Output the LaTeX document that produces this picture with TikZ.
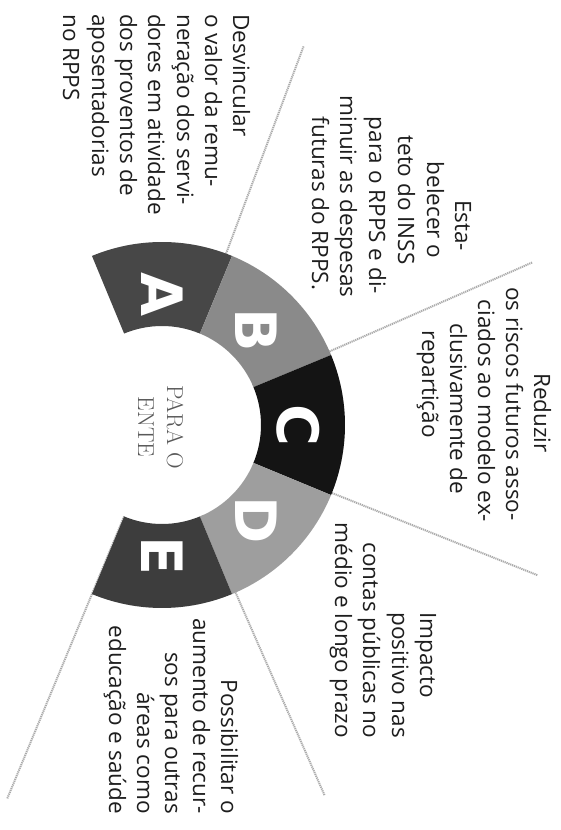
\documentclass[tikz,border=0pt]{standalone}
\usepackage{fontspec}
\newfontfamily\sansf{Open Sans}
\newfontfamily\letf{DejaVu Sans}
\definecolor{segA}{HTML}{474747}
\definecolor{segB}{HTML}{8A8A8A}
\definecolor{segC}{HTML}{141414}
\definecolor{segD}{HTML}{9E9E9E}
\definecolor{segE}{HTML}{3D3D3D}
\definecolor{linecol}{HTML}{ABABAB}
\definecolor{txtcol}{HTML}{1E1E1E}
\begin{document}
\begin{tikzpicture}[x=1pt,y=1pt,
  txt/.style={font=\sansf\fontsize{22.5}{28}\selectfont, rotate=-90, inner sep=0pt, text=txtcol},
  bigletter/.style={font=\letf\bfseries\fontsize{57}{57}\selectfont, rotate=-90, inner sep=0pt, text=white},
  ctrtext/.style={font=\fontsize{23}{28}\selectfont, rotate=-90, inner sep=0pt, text=black!65},
  divider/.style={draw=linecol, line width=2pt, dash pattern=on 1.2pt off 0.8pt}]
\useasboundingbox (0,0) rectangle (561,830);
\fill[white] (0,0) rectangle (561,830);
\begin{scope}[shift={(162,405)}]
  \foreach \a in {69.5,23.7,-21.8,-66.3,-112.5}
    \draw[divider] (\a:99pt) -- (\a:405pt);
  \fill[segA] (112.5:183pt) arc[start angle=112.5,end angle=67.5,radius=183pt] -- (67.5:99pt) arc[start angle=67.5,end angle=112.5,radius=99pt] -- cycle;
  \fill[segB] (67.5:183pt) arc[start angle=67.5,end angle=22.5,radius=183pt] -- (22.5:99pt) arc[start angle=22.5,end angle=67.5,radius=99pt] -- cycle;
  \fill[segC] (22.5:183pt) arc[start angle=22.5,end angle=-22.5,radius=183pt] -- (-22.5:99pt) arc[start angle=-22.5,end angle=22.5,radius=99pt] -- cycle;
  \fill[segD] (-22.5:183pt) arc[start angle=-22.5,end angle=-67.5,radius=183pt] -- (-67.5:99pt) arc[start angle=-67.5,end angle=-22.5,radius=99pt] -- cycle;
  \fill[segE] (-67.5:183pt) arc[start angle=-67.5,end angle=-112.5,radius=183pt] -- (-112.5:99pt) arc[start angle=-112.5,end angle=-67.5,radius=99pt] -- cycle;
  \node[bigletter] (LA) at (90:130pt) {A};
  \node[bigletter] (LB) at (45:134pt) {B};
  \node[bigletter] (LC) at (0:136pt) {C};
  \node[bigletter] (LD) at (-45:134pt) {D};
  \node[bigletter] (LE) at (-90:131pt) {E};
\end{scope}
% centre
\node[ctrtext, anchor=base] (c1) at (167,403) {PARA O};
\node[ctrtext, anchor=base] (c2) at (138,403) {ENTE};
% block A
\node[txt, anchor=base west] (a1) at (233,816) {Desvincular};
\node[txt, anchor=base west] (a2) at (205,816) {o valor da remu-};
\node[txt, anchor=base west] (a3) at (177,816) {neração dos servi-};
\node[txt, anchor=base west] (a4) at (148,816) {dores em atividade};
\node[txt, anchor=base west] (a5) at (120,816) {dos proventos de};
\node[txt, anchor=base west] (a6) at (92,816) {aposentadorias};
\node[txt, anchor=base west] (a7) at (63,816) {no RPPS};
% block B
\node[txt, anchor=base] (b1) at (455,604.5) {Esta-};
\node[txt, anchor=base] (b2) at (427,620) {belecer o};
\node[txt, anchor=base] (b3) at (398,630) {teto do INSS};
\node[txt, anchor=base] (b4) at (369,624.5) {para o RPPS e di-};
\node[txt, anchor=base] (b5) at (340,633.5) {minuir as despesas};
\node[txt, anchor=base] (b6) at (312,626.5) {futuras do RPPS.};
% block C
\node[txt, anchor=base] (k1) at (534,417) {Reduzir};
\node[txt, anchor=base] (k2) at (506,426) {os riscos futuros asso-};
\node[txt, anchor=base] (k3) at (478,419) {ciados ao modelo ex-};
\node[txt, anchor=base] (k4) at (450,421.5) {clusivamente de};
\node[txt, anchor=base] (k5) at (422,446) {repartição};
% block D
\node[txt, anchor=base west] (d1) at (420,218) {Impacto};
\node[txt, anchor=base east] (d2) at (392,92) {positivo nas};
\node[txt, anchor=base east] (d3) at (363,92) {contas públicas no};
\node[txt, anchor=base east] (d4) at (335,92) {médio e longo prazo};
% block E
\node[txt, anchor=base east] (e1) at (221,16) {Possibilitar o};
\node[txt, anchor=base east] (e2) at (193,16) {aumento de recur-};
\node[txt, anchor=base east] (e3) at (165,16) {sos para outras};
\node[txt, anchor=base east] (e4) at (137,16) {áreas como};
\node[txt, anchor=base east] (e5) at (109,16) {educação e saúde};
\end{tikzpicture}
\end{document}
